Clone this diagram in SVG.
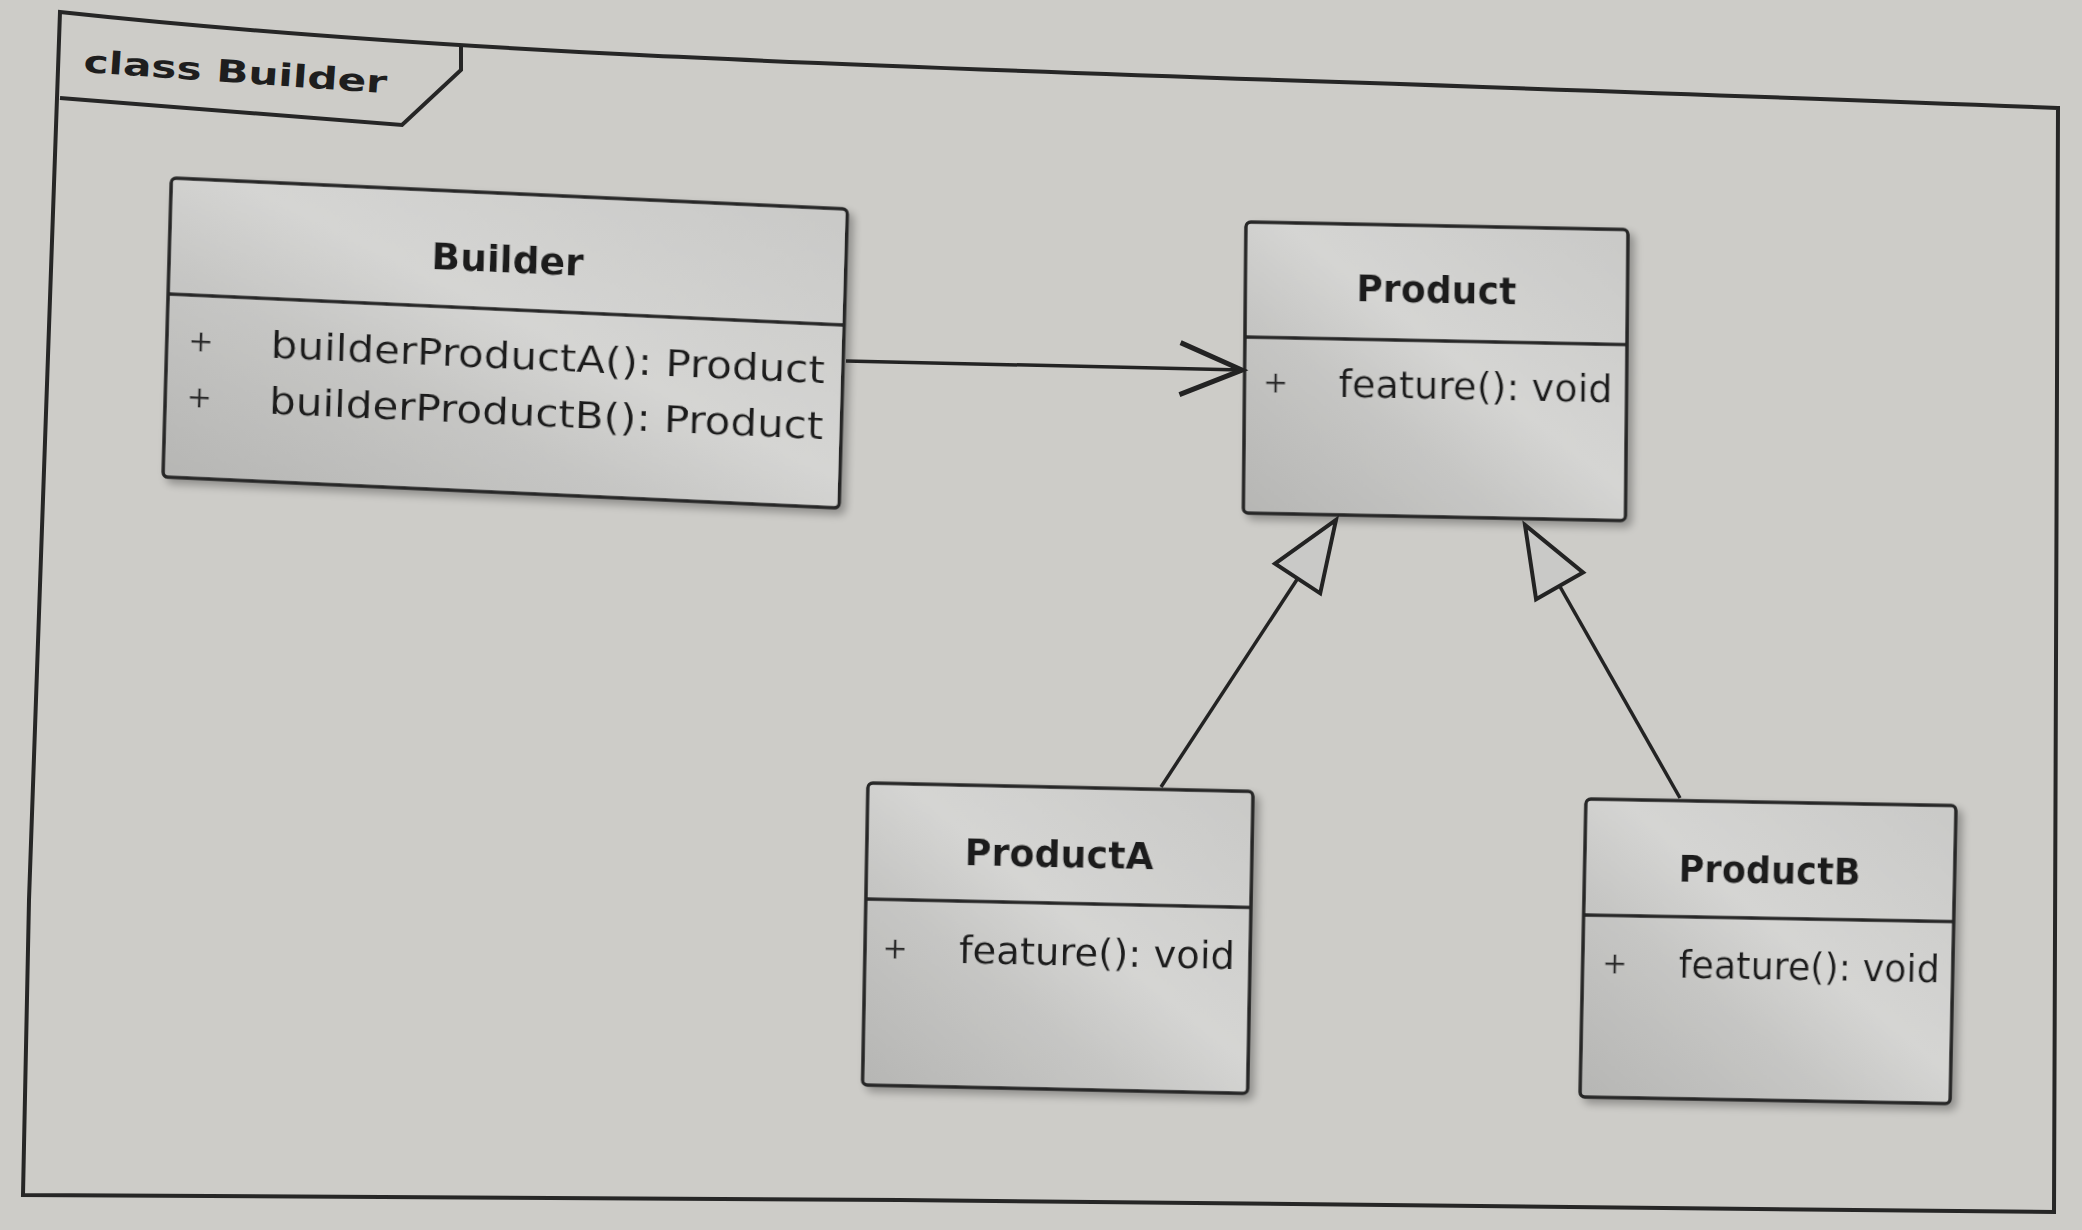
<svg xmlns="http://www.w3.org/2000/svg" width="2082" height="1230" viewBox="0 0 2082 1230">
  <defs>
    <linearGradient id="boxFill" x1="0" y1="1" x2="1" y2="0">
      <stop offset="0" stop-color="#b6b6b4"/>
      <stop offset="0.35" stop-color="#c6c6c4"/>
      <stop offset="0.55" stop-color="#d5d5d3"/>
      <stop offset="1" stop-color="#c9c9c7"/>
    </linearGradient>
    <filter id="shadow" x="-5%" y="-5%" width="115%" height="115%">
      <feGaussianBlur in="SourceAlpha" stdDeviation="4"/>
      <feOffset dx="5" dy="5" result="b"/>
      <feComponentTransfer><feFuncA type="linear" slope="0.3"/></feComponentTransfer>
      <feMerge><feMergeNode/><feMergeNode in="SourceGraphic"/></feMerge>
    </filter>
    <marker id="hollowTri" markerUnits="userSpaceOnUse" viewBox="-4 -4 78 62" refX="70" refY="27" markerWidth="78" markerHeight="62" orient="auto" overflow="visible">
      <path d="M0,0 L70,27 L0,54 Z" fill="#c9c9c7" stroke="#232323" stroke-width="4" stroke-linejoin="miter"/>
    </marker>
    <marker id="openArrow" markerUnits="userSpaceOnUse" viewBox="-4 -4 70 60" refX="62" refY="26" markerWidth="70" markerHeight="60" orient="auto" overflow="visible">
      <path d="M0,0 L62,26 L0,52" fill="none" stroke="#232323" stroke-width="5" stroke-linejoin="miter"/>
    </marker>
  </defs>
  <style>
    .frame { fill: none; stroke: #262626; stroke-width: 4; stroke-linejoin: miter; }
    .box { fill: url(#boxFill); stroke: #262626; stroke-width: 3.5; }
    .div { stroke: #262626; stroke-width: 3.5; }
    .title { font-family: "DejaVu Sans", "Liberation Sans", sans-serif; font-weight: bold; font-size: 38px; fill: #1e1e1e; text-anchor: middle; }
    .op { font-family: "DejaVu Sans", "Liberation Sans", sans-serif; font-size: 37px; fill: #1e1e1e; }
    .vis { font-family: "DejaVu Sans", "Liberation Sans", sans-serif; font-size: 30px; fill: #2a2a2a; text-anchor: middle; }
    .flabel { font-family: "DejaVu Sans", "Liberation Sans", sans-serif; font-weight: bold; font-size: 31px; fill: #1e1e1e; }
    .conn { fill: none; stroke: #232323; stroke-width: 3.5; }
  </style>

  <rect x="0" y="0" width="2082" height="1230" fill="#cdccc8"/>

  <g id="frame">
    <path class="frame" d="M60,12 C560,66 1100,70 2058,108 L2054,1212 L900,1200 L23,1195 L29,900 Z"/>
    <path class="frame" d="M461,47 L461,70 L402,125 L60,98"/>
    <text class="flabel" x="83" y="72" transform="rotate(4 83 72)" textLength="304" lengthAdjust="spacingAndGlyphs">class Builder</text>
  </g>

  <g id="builder" transform="matrix(1 0.046 -0.028 1 171.4 178)" filter="url(#shadow)">
    <rect class="box" x="0" y="0" width="676" height="299" rx="5"/>
    <line class="div" x1="0" y1="116" x2="676" y2="116"/>
    <text class="title" x="338" y="79" textLength="152" lengthAdjust="spacingAndGlyphs">Builder</text>
    <text class="vis" x="34" y="172">+</text>
    <text class="op" x="104" y="175" textLength="554" lengthAdjust="spacingAndGlyphs">builderProductA(): Product</text>
    <text class="vis" x="34" y="228">+</text>
    <text class="op" x="104" y="231" textLength="554" lengthAdjust="spacingAndGlyphs">builderProductB(): Product</text>
  </g>

  <g id="product" transform="matrix(1 0.02 -0.009 1 1246 222)" filter="url(#shadow)">
    <rect class="box" x="0" y="0" width="382" height="291" rx="5"/>
    <line class="div" x1="0" y1="115" x2="382" y2="115"/>
    <text class="title" x="191" y="77" textLength="160" lengthAdjust="spacingAndGlyphs">Product</text>
    <text class="vis" x="31" y="170">+</text>
    <text class="op" x="94" y="173" textLength="274" lengthAdjust="spacingAndGlyphs">feature(): void</text>
  </g>

  <g id="productA" transform="matrix(1 0.022 -0.018 1 868 783)" filter="url(#shadow)">
    <rect class="box" x="0" y="0" width="385" height="302" rx="5"/>
    <line class="div" x1="0" y1="116" x2="385" y2="116"/>
    <text class="title" x="192.5" y="80" textLength="189" lengthAdjust="spacingAndGlyphs">ProductA</text>
    <text class="vis" x="30" y="175">+</text>
    <text class="op" x="94" y="178" textLength="276" lengthAdjust="spacingAndGlyphs">feature(): void</text>
  </g>

  <g id="productB" transform="matrix(1 0.018 -0.02 1 1586 799)" filter="url(#shadow)">
    <rect class="box" x="0" y="0" width="370" height="298" rx="5"/>
    <line class="div" x1="0" y1="116" x2="370" y2="116"/>
    <text class="title" x="185" y="81" textLength="182" lengthAdjust="spacingAndGlyphs">ProductB</text>
    <text class="vis" x="32" y="174">+</text>
    <text class="op" x="96" y="177" textLength="261" lengthAdjust="spacingAndGlyphs">feature(): void</text>
  </g>

  <g id="connectors">
    <path class="conn" d="M846,361 L1242,370" marker-end="url(#openArrow)"/>
    <path class="conn" d="M1161,787 L1336,520" marker-end="url(#hollowTri)"/>
    <path class="conn" d="M1680,798 L1525,525" marker-end="url(#hollowTri)"/>
  </g>
</svg>
